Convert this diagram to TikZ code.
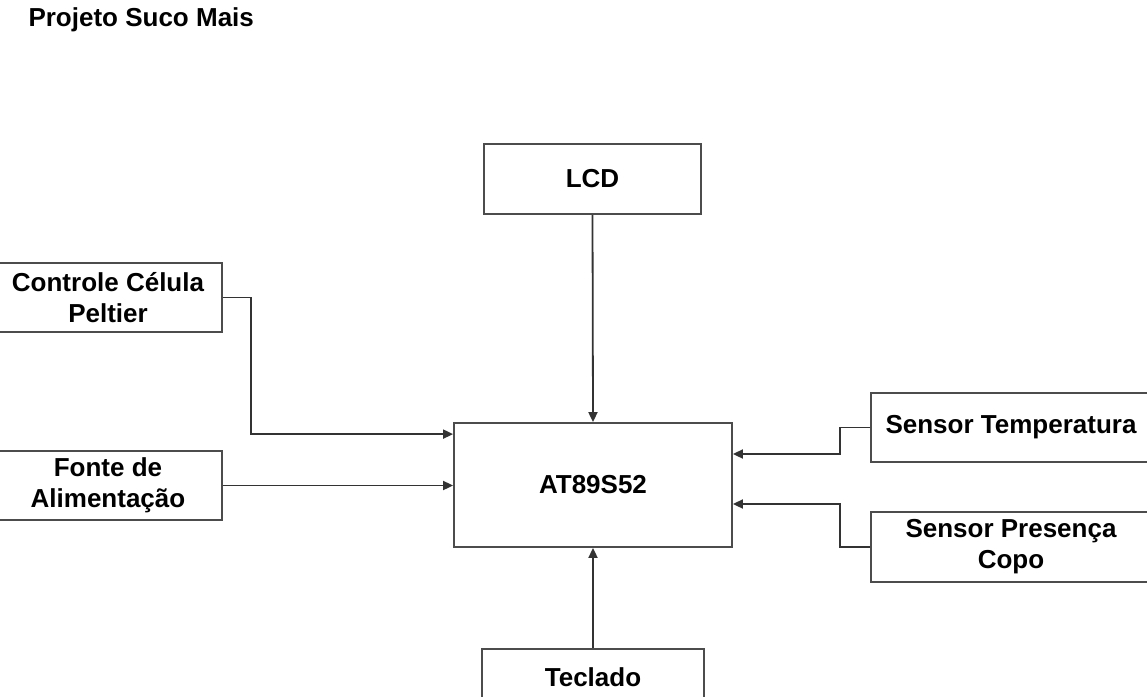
\documentclass[tikz,border=0pt]{standalone}
\usepackage{fontspec}
\setmainfont{Liberation Sans}
\usetikzlibrary{calc,arrows.meta}
\usetikzlibrary{positioning}

\begin{document}
\begin{tikzpicture}[x=1pt,y=-1pt,
  blk/.style={draw=black!70, line width=1.8pt, rectangle, align=center,
    font=\fontsize{26}{31}\selectfont\bfseries, inner sep=0pt},
  conn/.style={draw=black!80, line width=1.8pt, -{Triangle[length=10pt,width=9pt]}}]
\useasboundingbox (0,0) rectangle (1147,696);
\fill[white] (0,0) rectangle (1147,696);
\node[anchor=base west, font=\fontsize{26}{30}\selectfont\bfseries](title) at (25,27){Projeto Suco Mais};
\node[blk, minimum width=217, minimum height=70](lcd) at (592.5,179){LCD};
\node[blk, minimum width=228, minimum height=69](ctrl) at (108,297.5){Controle Célula\\Peltier};
\node[blk, minimum width=228, minimum height=69](fonte) at (108,485.5){Fonte de\\Alimentação};
\node[blk, minimum width=278, minimum height=124](mcu) at (593,485){AT89S52};
\node[blk, minimum width=280, minimum height=69](sensT) at (1011,427.5){Sensor Temperatura};
\node[blk, minimum width=280, minimum height=70](sensP) at (1011,547){Sensor Presença\\Copo};
\node[blk, minimum width=222, minimum height=56](tecl) at (593,677){Teclado};
% ligacoes
\draw[conn] (lcd.south) -- (mcu.north);
\draw[conn] (ctrl.east) -- ++(28,0) |- ([yshift=-12pt]mcu.north west);
\draw[conn] (fonte.east) -- (fonte.east -| mcu.west);
\draw[conn] (sensT.west) -- ++(-30,0) |- ([yshift=31pt]mcu.east);
\draw[conn] (sensP.west) -- ++(-30,0) |- ([yshift=-19pt]mcu.east);
\draw[conn] (tecl.north) -- (mcu.south);
\end{tikzpicture}
\end{document}
